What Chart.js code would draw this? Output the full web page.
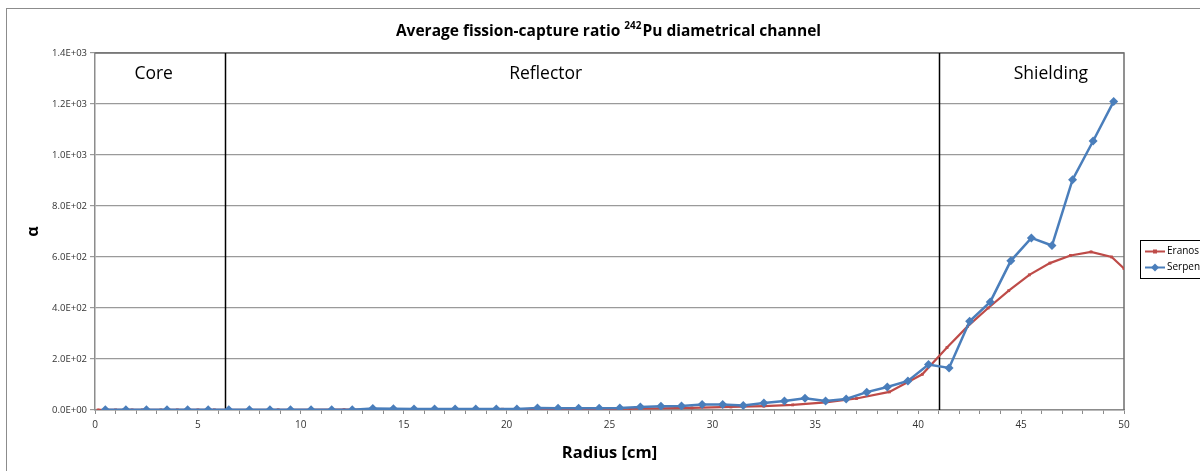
<!DOCTYPE html>
<html>
<head>
<meta charset="utf-8">
<script src="https://cdn.jsdelivr.net/npm/chart.js@4/dist/chart.umd.min.js"></script>
<style>
  html, body { margin: 0; padding: 0; background: #fff; }
  #wrap { width: 1200px; height: 471px; }
</style>
</head>
<body>
<div id="wrap"><canvas id="chart" width="1200" height="471"></canvas></div>
<script>
// radius [cm] and alpha values
var eranosRadius = [0.15, 1.0, 1.4, 1.8, 2.3, 3.2, 4.0, 5.0, 5.8, 8.9, 12.1, 15.2, 16.8, 19.8, 23.0, 26.0, 29.0, 30.9, 32.5, 33.9, 35.5, 37.0, 38.6, 40.2, 41.4, 42.4, 43.4, 44.4, 45.4, 46.4, 47.4, 48.4, 49.4, 50];
var eranosAlpha = [0.3, 0.3, 0.3, 0.4, 0.4, 0.4, 0.5, 0.5, 0.6, 1, 1.5, 2, 2, 3, 4, 5, 8, 12, 15, 20, 30, 45, 71, 140, 245, 328, 400, 468, 530, 576, 606, 620, 600, 555];

var serpentRadius = [0.5, 1.5, 2.5, 3.5, 4.5, 5.5, 6.5, 7.5, 8.5, 9.5, 10.5, 11.5, 12.5, 13.5, 14.5, 15.5, 16.5, 17.5, 18.5, 19.5, 20.5, 21.5, 22.5, 23.5, 24.5, 25.5, 26.5, 27.5, 28.5, 29.5, 30.5, 31.5, 32.5, 33.5, 34.5, 35.5, 36.5, 37.5, 38.5, 39.5, 40.5, 41.5, 42.5, 43.5, 44.5, 45.5, 46.5, 47.5, 48.5, 49.5];
var serpentAlpha = [1, 1, 1, 1, 1, 1, 1, 1, 1, 1, 1, 1, 1, 6, 5, 4, 4, 4, 4, 4, 4, 8, 7, 7, 7, 8, 12, 15, 16, 22, 22, 18, 27, 35, 46, 35, 43, 70, 90, 114, 178, 165, 348, 424, 585, 675, 645, 903, 1055, 1210];

var regionBounds = [6.3, 41];
var regionNames = ['Core', 'Reflector', 'Shielding'];
var regionLabelX = [2.85, 21.9, 46.45];

var seriesNames = ['Eranos', 'Serpent'];
var seriesColors = ['#BE4B48', '#4A7EBB'];

function toPoints(xs, ys) {
    return xs.map(function (x, i) { return { x: x, y: ys[i] }; });
}

var fontFamily = "'Open Sans', 'Noto Sans', 'DejaVu Sans', sans-serif";

var decorations = {
    id: 'decorations',
    beforeDraw: function (chart) {
        var ctx = chart.ctx;
        ctx.save();
        ctx.fillStyle = '#fff';
        ctx.fillRect(0, 0, chart.width, chart.height);
        ctx.strokeStyle = '#8c8c8c';
        ctx.lineWidth = 1;
        ctx.strokeRect(6.5, 8.5, 1400, 600);
        ctx.restore();
    },
    beforeDatasetsDraw: function (chart) {
        var ctx = chart.ctx;
        var a = chart.chartArea;
        var xs = chart.scales.x;
        ctx.save();
        // plot area border
        ctx.strokeStyle = '#6e6e6e';
        ctx.lineWidth = 1.5;
        ctx.beginPath();
        ctx.moveTo(a.left, a.top);
        ctx.lineTo(a.right, a.top);
        ctx.lineTo(a.right, a.bottom);
        ctx.stroke();
        // region dividers
        ctx.strokeStyle = '#000';
        ctx.lineWidth = 1.5;
        regionBounds.forEach(function (r) {
            var px = Math.round(xs.getPixelForValue(r)) + 0.5;
            ctx.beginPath();
            ctx.moveTo(px, a.top);
            ctx.lineTo(px, a.bottom);
            ctx.stroke();
        });
        // region labels
        ctx.fillStyle = '#000';
        ctx.font = '17.5px ' + fontFamily;
        ctx.textAlign = 'center';
        ctx.textBaseline = 'middle';
        regionNames.forEach(function (n, i) {
            ctx.fillText(n, xs.getPixelForValue(regionLabelX[i]), 74);
        });
        ctx.restore();
    },
    afterDraw: function (chart) {
        var ctx = chart.ctx;
        var a = chart.chartArea;
        ctx.save();
        ctx.fillStyle = '#000';
        // title with superscript
        ctx.textBaseline = 'alphabetic';
        var p1 = 'Average fission-capture ratio ';
        var sup = '242';
        var p2 = 'Pu diametrical channel';
        ctx.font = 'bold 15.5px ' + fontFamily;
        var w1 = ctx.measureText(p1).width;
        var w3 = ctx.measureText(p2).width;
        ctx.font = 'bold 10px ' + fontFamily;
        var w2 = ctx.measureText(sup).width;
        var x0 = 608 - (w1 + w2 + w3) / 2;
        ctx.font = 'bold 15.5px ' + fontFamily;
        ctx.textAlign = 'left';
        ctx.fillText(p1, x0, 36);
        ctx.font = 'bold 10px ' + fontFamily;
        ctx.fillText(sup, x0 + w1, 29);
        ctx.font = 'bold 15.5px ' + fontFamily;
        ctx.fillText(p2, x0 + w1 + w2 + 1, 36);
        // axis titles
        ctx.textAlign = 'center';
        ctx.textBaseline = 'middle';
        ctx.font = 'bold 16.5px ' + fontFamily;
        ctx.fillText('Radius [cm]', (a.left + a.right) / 2, 453);
        ctx.save();
        ctx.translate(33, (a.top + a.bottom) / 2);
        ctx.rotate(-Math.PI / 2);
        ctx.font = 'bold 16px ' + fontFamily;
        ctx.fillText('α', 0, 0);
        ctx.restore();
        // legend
        ctx.strokeStyle = '#000';
        ctx.lineWidth = 1;
        ctx.fillStyle = '#fff';
        ctx.fillRect(1140.5, 240.5, 80, 38);
        ctx.strokeRect(1140.5, 240.5, 80, 38);
        ctx.font = '10px ' + fontFamily;
        ctx.textAlign = 'left';
        seriesNames.forEach(function (n, i) {
            var y = 251.5 + i * 16;
            ctx.strokeStyle = seriesColors[i];
            ctx.lineWidth = 2;
            ctx.beginPath();
            ctx.moveTo(1145, y);
            ctx.lineTo(1165, y);
            ctx.stroke();
            ctx.fillStyle = seriesColors[i];
            ctx.beginPath();
            if (i === 0) {
                ctx.rect(1153, y - 2, 4, 4);
            } else {
                ctx.moveTo(1155, y - 4);
                ctx.lineTo(1159, y);
                ctx.lineTo(1155, y + 4);
                ctx.lineTo(1151, y);
                ctx.closePath();
            }
            ctx.fill();
            ctx.fillStyle = '#000';
            ctx.fillText(n, 1167, y);
        });
        ctx.restore();
    }
};

new Chart(document.getElementById('chart'), {
    type: 'line',
    data: {
        datasets: [
            {
                label: seriesNames[0],
                data: toPoints(eranosRadius, eranosAlpha),
                borderColor: seriesColors[0],
                backgroundColor: seriesColors[0],
                borderWidth: 2.2,
                pointStyle: 'rect',
                pointRadius: 2,
                pointBorderWidth: 0,
                tension: 0,
                order: 2
            },
            {
                label: seriesNames[1],
                data: toPoints(serpentRadius, serpentAlpha),
                borderColor: seriesColors[1],
                backgroundColor: seriesColors[1],
                borderWidth: 2.5,
                pointStyle: 'rectRot',
                pointRadius: 4.5,
                pointBorderWidth: 0,
                tension: 0,
                order: 1
            }
        ]
    },
    options: {
        responsive: false,
        animation: false,
        devicePixelRatio: 1,
        layout: { padding: { left: 0, right: 76, top: 53, bottom: 0 } },
        plugins: {
            legend: { display: false },
            tooltip: { enabled: false },
            title: { display: false }
        },
        scales: {
            x: {
                type: 'linear',
                min: 0,
                max: 50,
                afterFit: function (s) { s.height = 61; },
                afterBuildTicks: function (s) {
                    var t = [];
                    for (var v = 0; v <= 50; v++) t.push({ value: v });
                    s.ticks = t;
                },
                border: { color: '#8c8c8c', width: 1.5 },
                grid: { drawOnChartArea: false, color: '#8c8c8c', tickLength: 4 },
                ticks: {
                    autoSkip: false,
                    maxRotation: 0,
                    padding: 5,
                    color: '#333',
                    font: { family: fontFamily, size: 10 },
                    callback: function (v) { return v % 5 === 0 ? String(v) : ''; }
                }
            },
            y: {
                min: 0,
                max: 1400,
                afterFit: function (s) { s.width = 95; },
                border: { color: '#8c8c8c', width: 1.5 },
                grid: { color: '#9a9a9a', lineWidth: 1.2, tickLength: 5 },
                ticks: {
                    stepSize: 200,
                    padding: 3,
                    color: '#333',
                    font: { family: fontFamily, size: 9.5 },
                    callback: function (v) {
                        var e = v === 0 ? 0 : Math.floor(Math.log10(v));
                        var m = v === 0 ? 0 : v / Math.pow(10, e);
                        var es = String(e);
                        if (es.length < 2) es = '0' + es;
                        return m.toFixed(1) + 'E+' + es;
                    }
                }
            }
        }
    },
    plugins: [decorations]
});
</script>
</body>
</html>
